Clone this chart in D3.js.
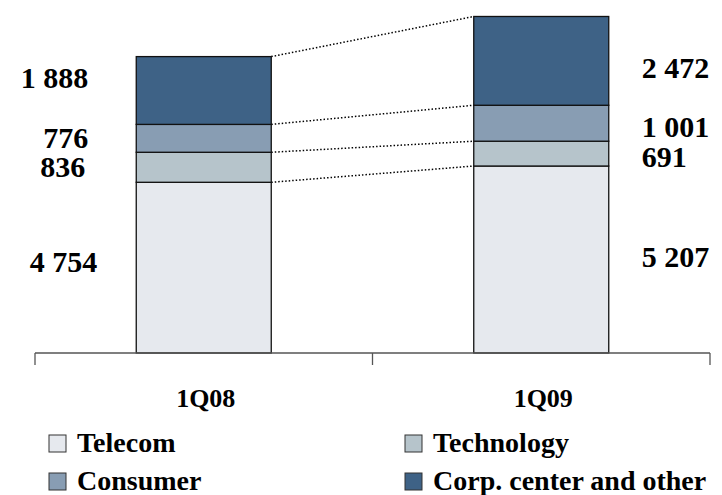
<!DOCTYPE html>
<meta charset="utf-8">
<body style="margin:0; background:#fff">
<svg width="722" height="495" style="font-family:'Liberation Serif'; font-weight:bold"></svg>
<script src="https://d3js.org/d3.v7.min.js"></script>
<script>

var quarters = ["1Q08", "1Q09"]
var segments = ["Telecom", "Technology", "Consumer", "Corp. center and other"]
var telecom = [4754, 5207]
var technology = [836, 691]
var consumer = [776, 1001]
var corp = [1888, 2472]
var labelText = [["4 754", "836", "776", "1 888"], ["5 207", "691", "1 001", "2 472"]]

var colors = ["#e6e9ee", "#b6c4cb", "#889db3", "#3e6286"]
var font = "'Liberation Serif', serif"
// small nudges so the labels sit like the original (px)
var nudgeY = [[-6, 0, 0, -12], [-3, 3, 4, 7]]
var nudgeX = [[9, -3, 0, 0], [0, 0, 0, 0]]

var rows = quarters.map(function(q, i) {
  return { quarter: q, Telecom: telecom[i], Technology: technology[i],
           Consumer: consumer[i], "Corp. center and other": corp[i] }
})

var svg = d3.select("svg")

var x = d3.scaleBand().domain(quarters).range([35, 710]).padding(0),
    y = d3.scaleLinear().domain([0, 9830]).range([353, 0])

var barW = x.bandwidth() * 0.4,
    barX = function(q) { return x(q) + x.bandwidth() * 0.3 }

var series = d3.stack().keys(segments)(rows)

// dotted connectors between the two bars
series.forEach(function(s) {
  svg.append("line")
    .attr("x1", barX(quarters[0]) + barW)
    .attr("y1", y(s[0][1]))
    .attr("x2", barX(quarters[1]))
    .attr("y2", y(s[1][1]))
    .attr("stroke", "#000")
    .attr("stroke-width", 1.5)
    .attr("stroke-dasharray", "1.5,2")
})

// stacked bars
var groups = svg.selectAll("g.series")
  .data(series)
  .enter().append("g")
  .attr("class", "series")
  .attr("fill", function(d, i) { return colors[i] })

groups.selectAll("rect")
  .data(function(d) { return d })
  .enter().append("rect")
  .attr("x", function(d) { return barX(d.data.quarter) })
  .attr("width", barW)
  .attr("y", function(d) { return y(d[1]) })
  .attr("height", function(d) { return y(d[0]) - y(d[1]) })
  .attr("stroke", "#111")
  .attr("stroke-width", 1.3)

// value labels
series.forEach(function(s, k) {
  s.forEach(function(d, i) {
    var mid = (y(d[0]) + y(d[1])) / 2 + nudgeY[i][k]
    svg.append("text")
      .attr("x", (i === 0 ? barX(quarters[0]) - 48 : barX(quarters[1]) + barW + 33) + nudgeX[i][k])
      .attr("y", mid + 10)
      .attr("text-anchor", i === 0 ? "end" : "start")
      .style("font-family", font)
      .style("font-weight", "bold")
      .style("font-size", "30px")
      .text(labelText[i][k])
  })
})

// axis
var axis = svg.append("g")
axis.append("line")
  .attr("x1", 35).attr("x2", 710)
  .attr("y1", y(0)).attr("y2", y(0))
  .attr("stroke", "#555").attr("stroke-width", 1.3)
axis.selectAll("line.tick")
  .data([35].concat(quarters.map(function(q) { return x(q) + x.bandwidth() })))
  .enter().append("line")
  .attr("class", "tick")
  .attr("x1", function(d) { return d }).attr("x2", function(d) { return d })
  .attr("y1", y(0)).attr("y2", y(0) + 12)
  .attr("stroke", "#555").attr("stroke-width", 1.3)

svg.selectAll("text.cat")
  .data(quarters)
  .enter().append("text")
  .attr("class", "cat")
  .attr("x", function(q) { return x(q) + x.bandwidth() / 2 + 2 })
  .attr("y", 407)
  .attr("text-anchor", "middle")
  .style("font-family", font)
  .style("font-weight", "bold")
  .style("font-size", "26px")
  .text(function(q) { return q })

// legend
var legend = svg.selectAll("g.legend")
  .data(segments)
  .enter().append("g")
  .attr("class", "legend")
  .attr("transform", function(d, i) {
    return "translate(" + (i % 2 === 0 ? 49 : 405) + "," + (i < 2 ? 435 : 473) + ")"
  })

legend.append("rect")
  .attr("width", 17).attr("height", 17)
  .attr("fill", function(d, i) { return colors[i] })
  .attr("stroke", "#333").attr("stroke-width", 1)

legend.append("text")
  .attr("x", 28)
  .attr("y", 17)
  .style("font-family", font)
  .style("font-weight", "bold")
  .style("font-size", "28px")
  .text(function(d) { return d })

</script>
